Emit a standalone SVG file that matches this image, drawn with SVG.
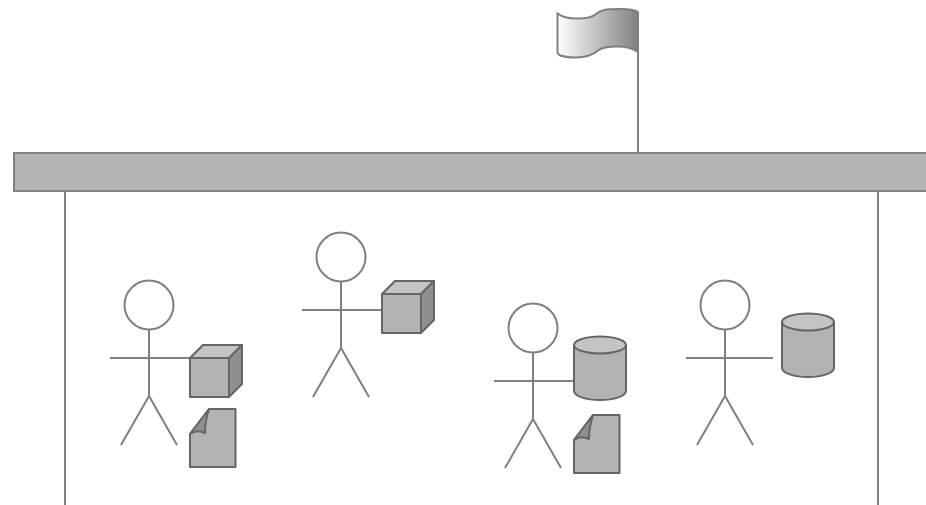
<svg xmlns="http://www.w3.org/2000/svg" width="926" height="505" viewBox="0 0 926 505">
<style>
.line{fill:none;stroke:#808080;stroke-width:2}
.head{fill:#fff;stroke:#808080;stroke-width:2}
.shape{fill:#b3b3b3;stroke:#666;stroke-width:2;stroke-linejoin:round}
.light{fill:#c4c4c4;stroke:#666;stroke-width:2;stroke-linejoin:round}
.dark{fill:#8f8f8f;stroke:#666;stroke-width:2;stroke-linejoin:round}
</style>
<defs>
<linearGradient id="flagfill" x1="0" y1="0" x2="1" y2="0"><stop offset="0" stop-color="#fff"/><stop offset="1" stop-color="#808080"/></linearGradient>
<g id="actor">
<circle class="head" cx="0" cy="0" r="24.5"/>
<path class="line" d="M0 24.5V91M-39 53H41M0 91L-28 140M0 91L28 140"/>
</g>
<g id="cube">
<path class="shape" d="M0 13H39V52H0Z"/>
<path class="light" d="M0 13L13 0H52L39 13Z"/>
<path class="dark" d="M39 13L52 0V39L39 52Z"/>
</g>
<g id="doc">
<path class="shape" d="M0 25L19 0H45.500V58H0Z"/>
<path class="dark" d="M0 25L19 0C16 9 15 15 15 24C9 21 4 22 0 25Z"/>
</g>
<g id="cyl">
<path class="shape" d="M0 9V55C0 60 12 64 26 64C40 64 52 60 52 55V9Z"/>
<ellipse class="light" cx="26" cy="9" rx="26" ry="8.500"/>
</g>
</defs>
<g id="connectors">
<path class="line" d="M65 191V505M878 191V505M638 12V153"/>
</g>
<g id="flag"><path d="M557.500 13.500C562 17 570 18.500 577 18.500C586 18.500 593 17 596 14C600 10 606 9 619 9C630 9 638 10 638 13V52C632 48 624 46.500 617 46.500C608 46.500 602 47.500 598 50.500C593 55 585 57.500 575 57.500C565 57.500 557.500 55.500 557.500 52Z" fill="url(#flagfill)" stroke="#808080" stroke-width="2"/></g>
<g id="bar"><rect x="14" y="153" width="920" height="38" fill="#b3b3b3" stroke="#808080" stroke-width="2"/></g>
<g id="actor1"><use href="#actor" x="149" y="305"/></g>
<g id="cube1"><use href="#cube" x="190" y="345"/></g>
<g id="doc1"><use href="#doc" x="190" y="409"/></g>
<g id="actor2"><use href="#actor" x="341" y="257"/></g>
<g id="cube2"><use href="#cube" x="382" y="281"/></g>
<g id="actor3"><use href="#actor" x="533" y="328"/></g>
<g id="cyl1"><use href="#cyl" x="574" y="336"/></g>
<g id="doc2"><use href="#doc" x="574" y="415"/></g>
<g id="actor4"><use href="#actor" x="725" y="305"/><path class="line" d="M766 358H773"/></g>
<g id="cyl2"><use href="#cyl" x="782" y="313"/></g>
</svg>
